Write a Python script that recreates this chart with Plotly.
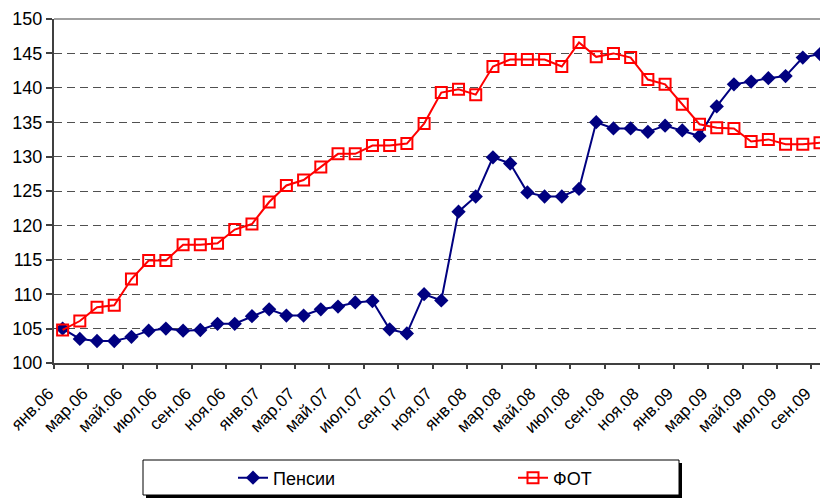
import plotly.graph_objects as go

months = ["янв", "фев", "мар", "апр", "май", "июн", "июл", "авг", "сен", "окт", "ноя", "дек"]
categories = [f"{m}.{y:02d}" for y in (6, 7, 8, 9) for m in months][:45]

pensii = [105.0, 103.5, 103.2, 103.2, 103.8, 104.7, 105.0, 104.7, 104.8, 105.7,
          105.7, 106.8, 107.8, 106.9, 106.9, 107.8, 108.2, 108.8, 109.0, 104.9,
          104.3, 110.0, 109.1, 122.0, 124.2, 129.9, 129.0, 124.8, 124.2, 124.2,
          125.3, 135.0, 134.1, 134.1, 133.6, 134.5, 133.8, 133.0, 137.3, 140.5,
          140.9, 141.4, 141.7, 144.4, 144.9]

fot = [104.8, 106.1, 108.1, 108.4, 112.2, 114.9, 114.9, 117.2, 117.2, 117.4,
       119.4, 120.2, 123.4, 125.8, 126.6, 128.5, 130.4, 130.4, 131.6, 131.6,
       131.9, 134.8, 139.3, 139.8, 139.0, 143.1, 144.1, 144.1, 144.1, 143.1,
       146.6, 144.5, 145.0, 144.4, 141.2, 140.5, 137.6, 134.7, 134.2, 134.1,
       132.2, 132.5, 131.8, 131.8, 132.0]

tick_labels = categories[::2]
y_ticks = [100, 105, 110, 115, 120, 125, 130, 135, 140, 145, 150]

W, H = 820, 498
L, R, T, B = 54, 0, 19, 135
pw, ph = W - L - R, H - T - B

def px(x):  # page pixel -> paper x
    return (x - L) / pw

def py(y):  # page pixel -> paper y
    return (H - B - y) / ph

FONT = "Liberation Sans, Arial, sans-serif"

fig = go.Figure()
fig.add_trace(go.Scatter(
    x=categories, y=pensii, name="Пенсии", mode="lines+markers",
    line=dict(color="#000080", width=2),
    marker=dict(symbol="diamond", size=11, color="#000080"),
))
fig.add_trace(go.Scatter(
    x=categories, y=fot, name="ФОТ", mode="lines+markers",
    line=dict(color="#FF0000", width=2),
    marker=dict(symbol="square-open", size=11, color="#FF0000", line=dict(width=2)),
))
# invisible trace for the boundary tick axis
fig.add_trace(go.Scatter(x=[0], y=[100], xaxis="x2", mode="markers",
                         marker=dict(opacity=0), showlegend=False, hoverinfo="skip"))

shapes = [
    dict(type="line", xref="paper", yref="paper", x0=0, x1=1, y0=1, y1=1,
         line=dict(color="#A0A0A0", width=2), layer="below"),
    dict(type="rect", xref="paper", yref="paper",
         x0=px(146), x1=px(682), y0=py(463), y1=py(498),
         fillcolor="black", line=dict(width=0), layer="above"),
    dict(type="rect", xref="paper", yref="paper",
         x0=px(143), x1=px(679), y0=py(460), y1=py(495),
         fillcolor="white", line=dict(color="black", width=1), layer="above"),
]

fig.update_layout(
    width=W, height=H,
    margin=dict(l=L, r=R, t=T, b=B, autoexpand=False),
    paper_bgcolor="white", plot_bgcolor="white",
    font=dict(family=FONT, color="black"),
    showlegend=True,
    legend=dict(orientation="h", x=px(233), xanchor="left", y=py(478), yanchor="middle",
                bgcolor="rgba(0,0,0,0)", borderwidth=0, font=dict(size=18, family=FONT),
                entrywidth=235, traceorder="normal"),
    shapes=shapes,
    xaxis=dict(
        type="category", categoryorder="array", categoryarray=categories,
        range=[-0.5, 44.0], automargin=False,
        tickmode="array", tickvals=tick_labels, ticktext=tick_labels,
        tickangle=-45, tickfont=dict(size=17, family=FONT),
        ticklabelstandoff=12, ticklabelshift=-14,
        ticks="", showgrid=False, zeroline=False,
        showline=True, linecolor="#404040", linewidth=2,
    ),
    xaxis2=dict(
        overlaying="x", anchor="y", range=[-0.5, 44.0],
        tickmode="array", tickvals=[i - 0.5 for i in range(0, 45, 2)],
        showticklabels=False, ticks="outside", ticklen=5, tickwidth=1.5,
        tickcolor="#404040", showgrid=False, zeroline=False, showline=False,
        side="bottom",
    ),
    yaxis=dict(
        range=[100, 150], tickmode="array", tickvals=y_ticks, automargin=False,
        tickfont=dict(size=18, family=FONT),
        ticks="outside", ticklen=6, tickwidth=1.5, tickcolor="#404040",
        showgrid=True, gridcolor="#505050", gridwidth=1, griddash="8px,5px",
        zeroline=False, showline=True, linecolor="#404040", linewidth=2,
    ),
)

fig.write_html(
    "out.html",
    config={"displayModeBar": False},
    post_script="document.body.style.margin='0';document.body.style.overflow='hidden';",
)
